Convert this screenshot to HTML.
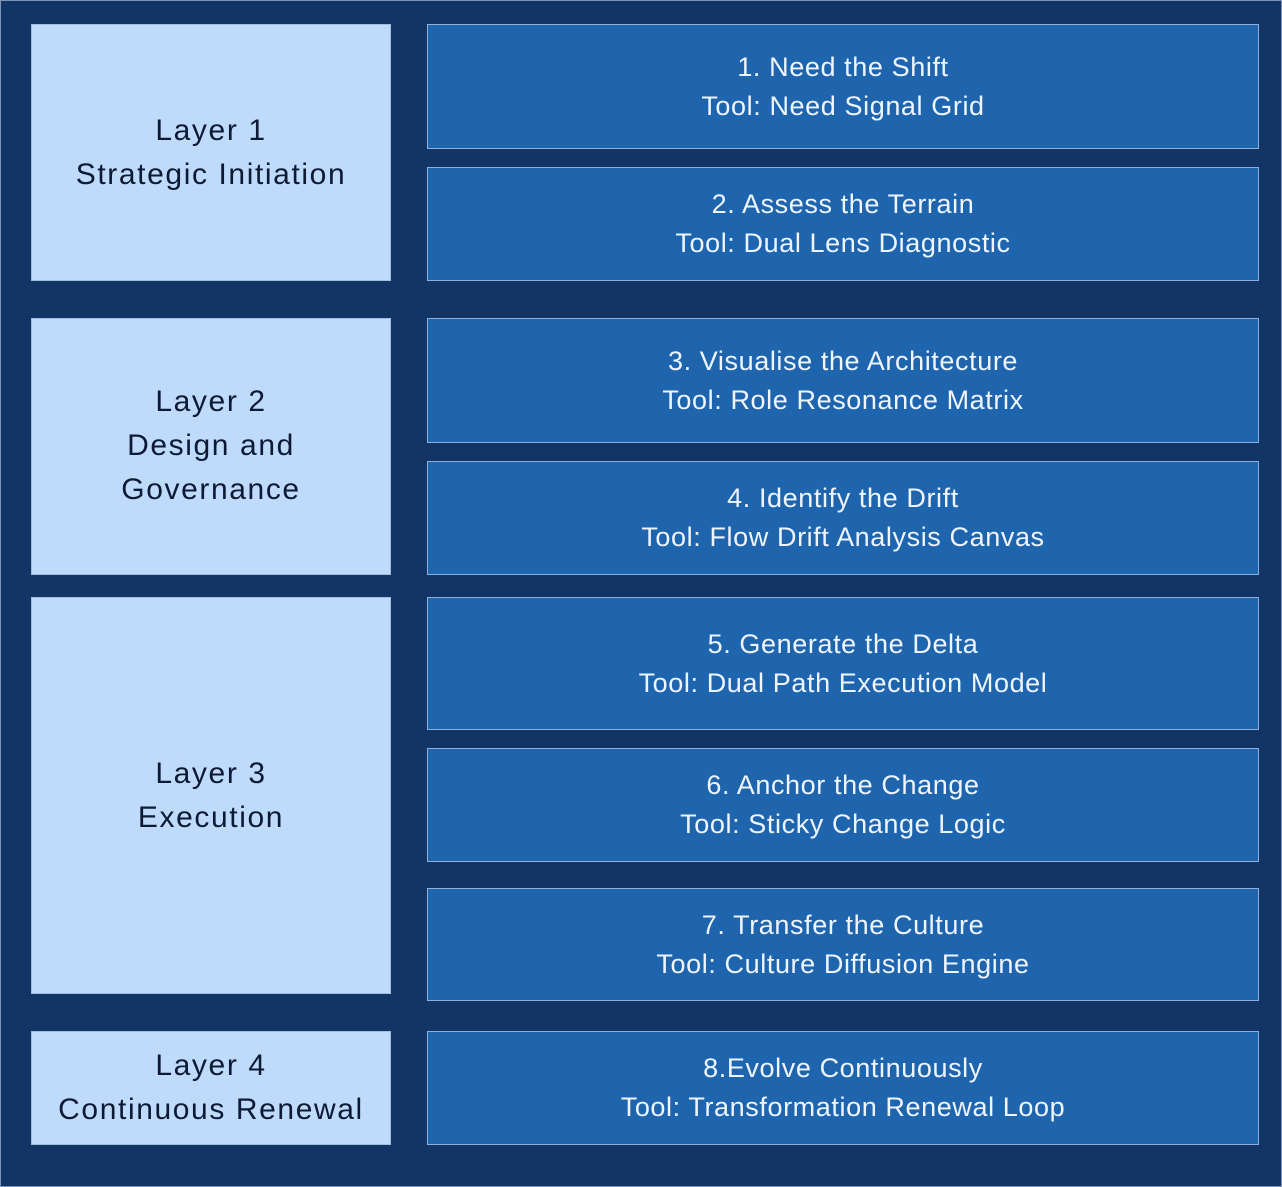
<!DOCTYPE html>
<html><head><style>
html,body{margin:0;padding:0}
body{width:1282px;height:1187px;background:#fff;position:relative;overflow:hidden;font-family:"Liberation Sans",sans-serif}
#bg{position:absolute;left:0;top:0;width:1280px;height:1185px;background:#133566;border:1px solid #7d93b8}
.b{position:absolute;display:flex;align-items:center;justify-content:center;text-align:center;box-sizing:border-box}
.l{background:#bfdbfc;color:#0c1a33;font-size:30px;letter-spacing:1.6px;line-height:44px;border:1px solid #9fbde0}
.r{background:#1f65ae;color:#eef5ff;font-size:27px;letter-spacing:0.6px;line-height:39px;border:1px solid #8fb0dc}
</style></head><body>
<div id="bg"></div>
<div class="b l" style="left:31px;top:24px;width:360px;height:257px;padding-bottom:0px">Layer 1<br>Strategic Initiation</div>
<div class="b l" style="left:31px;top:318px;width:360px;height:257px;padding-bottom:2px">Layer 2<br>Design and<br>Governance</div>
<div class="b l" style="left:31px;top:597px;width:360px;height:397px">Layer 3<br>Execution</div>
<div class="b l" style="left:31px;top:1031px;width:360px;height:114px">Layer 4<br>Continuous Renewal</div>

<div class="b r" style="left:427px;top:24px;width:832px;height:125px">1. Need the Shift<br>Tool: Need Signal Grid</div>
<div class="b r" style="left:427px;top:167px;width:832px;height:114px">2. Assess the Terrain<br>Tool: Dual Lens Diagnostic</div>
<div class="b r" style="left:427px;top:318px;width:832px;height:125px">3. Visualise the Architecture<br>Tool: Role Resonance Matrix</div>
<div class="b r" style="left:427px;top:461px;width:832px;height:114px">4. Identify the Drift<br>Tool: Flow Drift Analysis Canvas</div>
<div class="b r" style="left:427px;top:597px;width:832px;height:133px">5. Generate the Delta<br>Tool: Dual Path Execution Model</div>
<div class="b r" style="left:427px;top:748px;width:832px;height:114px">6. Anchor the Change<br>Tool: Sticky Change Logic</div>
<div class="b r" style="left:427px;top:888px;width:832px;height:113px">7. Transfer the Culture<br>Tool: Culture Diffusion Engine</div>
<div class="b r" style="left:427px;top:1031px;width:832px;height:114px">8.Evolve Continuously<br>Tool: Transformation Renewal Loop</div>
</body></html>
